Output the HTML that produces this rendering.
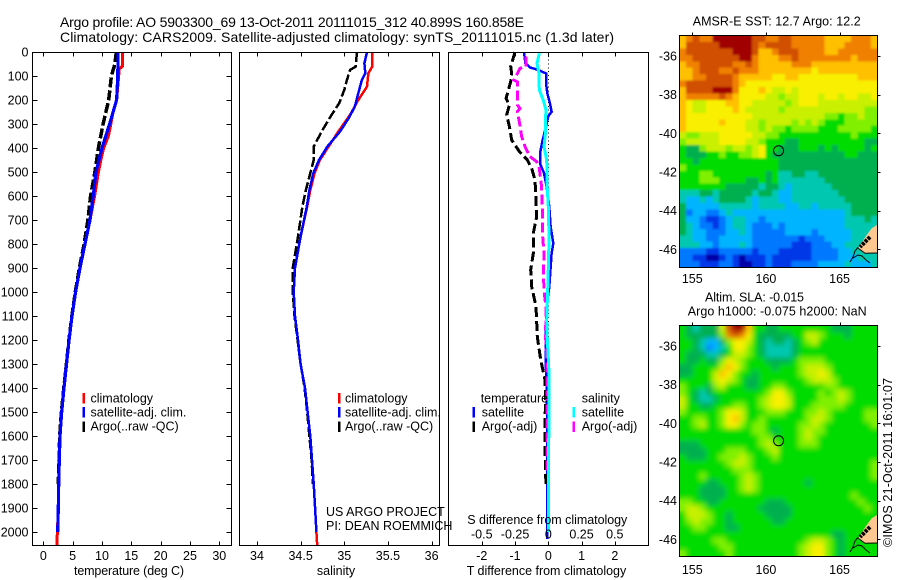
<!DOCTYPE html>
<html lang="en">
<head>
<meta charset="utf-8">
<title>Argo profile 5903300_69</title>
<style>
html,body{margin:0;padding:0;background:#fff;width:900px;height:580px;overflow:hidden}
svg{display:block}
text{font-family:"Liberation Sans",sans-serif;fill:#000;font-size:12.5px}
.title{font-size:14px}
.crisp{shape-rendering:crispEdges}
</style>
</head>
<body>
<svg id="chart" xmlns="http://www.w3.org/2000/svg" width="900" height="580" viewBox="0 0 900 580">
<defs>
<filter id="softA" x="-5%" y="-5%" width="110%" height="110%"><feGaussianBlur in="SourceGraphic" stdDeviation="1.1" result="b"/><feMerge><feMergeNode in="SourceGraphic"/><feMergeNode in="b"/></feMerge></filter>
<filter id="softB" x="-5%" y="-5%" width="110%" height="110%"><feGaussianBlur in="SourceGraphic" stdDeviation="2.6" result="b"/><feMerge><feMergeNode in="SourceGraphic"/><feMergeNode in="b"/></feMerge></filter>
<clipPath id="clipA"><rect x="679.5" y="35.5" width="198" height="232"/></clipPath>
<clipPath id="clipB"><rect x="679.5" y="325.5" width="198" height="231"/></clipPath>
</defs>
<rect width="900" height="580" fill="#fff"/>
<text class="title" x="60" y="27" textLength="464">Argo profile: AO 5903300_69 13-Oct-2011 20111015_312 40.899S 160.858E</text>
<text class="title" x="60" y="42" textLength="554">Climatology: CARS2009. Satellite-adjusted climatology: synTS_20111015.nc (1.3d later)</text>

<g id="panelT"></g>
<g id="panelS"></g>
<g id="panelD"></g>
<g id="mapA"></g>
<g id="mapB"></g>

<text x="74" y="575" textLength="110">temperature (deg C)</text>
<text x="336" y="575" text-anchor="middle">salinity</text>
<text x="466.7" y="575" textLength="159.5">T difference from climatology</text>
<text x="467.3" y="524" textLength="160">S difference from climatology</text>
<text x="326" y="516">US ARGO PROJECT</text>
<text x="326" y="530">PI: DEAN ROEMMICH</text>

<text x="692.7" y="25.7" textLength="168">AMSR-E SST: 12.7 Argo: 12.2</text>
<text x="705" y="301.7" textLength="99">Altim. SLA: -0.015</text>
<text x="687.7" y="315.7" textLength="179">Argo h1000: -0.075 h2000: NaN</text>
<text transform="translate(892,547) rotate(-90)" textLength="169">©IMOS 21-Oct-2011 16:01:07</text>
</svg>

<script>
// ---- profile data (depth in metres, temperature deg C, salinity PSU) ----
const depthTicks = [0,100,200,300,400,500,600,700,800,900,1000,1100,1200,1300,1400,1500,1600,1700,1800,1900,2000];
const tempTicks = [0,5,10,15,20,25,30];
const salTicks = [34,34.5,35,35.5,36];
const salTickLabels = ['34','34.5','35','35.5','36'];
const tDiffTicks = [-2,-1,0,1,2];
const tDiffTickLabels = ['-2','-1','0','1','2'];
const sDiffTicks = [-0.5,-0.25,0,0.25,0.5];
const sDiffTickLabels = ['-0.5','-0.25','0','0.25','0.5'];
const lonTicks = [155,160,165];
const latTicks = [-36,-38,-40,-42,-44,-46];

const tempClimDepth = [0,60,70,200,250,300,350,400,450,500,600,700,800,900,1000,1100,1200,1300,1400,1500,1600,1700,1800,1900,2000,2056];
const tempClimValue = [13.47,13.47,12.96,12.5,11.9,11.5,11.1,10.3,9.8,9.4,8.75,7.96,7.1,6.25,5.5,4.9,4.4,3.95,3.53,3.13,2.85,2.73,2.62,2.56,2.4,2.3];
const tempSatDepth = [0,100,200,250,300,400,500,600,700,800,900,1000,1100,1200,1300,1400,1500,1600,1700,1800,1900,2000];
const tempSatValue = [12.73,12.7,12.5,11.9,11.3,10.0,8.98,8.5,7.96,7.1,6.25,5.5,4.9,4.4,3.95,3.53,3.13,2.85,2.73,2.62,2.56,2.45];
const tempArgoDepth = [0,50,100,200,300,400,500,600,700,800,900,1000,1100,1200,1300,1400,1500,1600,1700,1800];
const tempArgoValue = [12.45,12.2,11.6,11.14,10.2,9.4,8.8,8.07,7.6,6.95,6.15,5.45,4.87,4.37,3.93,3.5,3.08,2.8,2.68,2.56];

const salClimDepth = [0,61,89,144,200,262,332,394,450,505,575,644,769,900,1000,1100,1200,1300,1400,1500,1600,1700,1800,1900,2000,2056];
const salClimValue = [35.32,35.32,35.275,35.26,35.16,35.065,34.93,34.82,34.72,34.66,34.61,34.575,34.5,34.435,34.42,34.435,34.47,34.5,34.55,34.58,34.61,34.63,34.65,34.665,34.68,34.69];
const salSatDepth = [0,47,89,117,172,228,276,332,394,450,505,575,644,769,900,1000,1100,1200,1300,1400,1500,1600,1700,1800,1900,2000];
const salSatValue = [35.26,35.23,35.24,35.2,35.16,35.12,35.05,34.95,34.805,34.71,34.645,34.6,34.57,34.5,34.435,34.42,34.435,34.47,34.5,34.55,34.58,34.61,34.63,34.65,34.665,34.68];
const salArgoDepth = [0,61,75,117,158,214,262,325,394,450,505,575,644,769,900,1000,1100,1200,1300,1400,1500,1600,1700,1800];
const salArgoValue = [35.145,35.13,35.065,35.03,35.0,34.94,34.855,34.75,34.65,34.65,34.61,34.56,34.52,34.47,34.41,34.41,34.43,34.465,34.5,34.545,34.575,34.6,34.625,34.64];

const dTempSatDepth = [0,47,64,75,89,130,172,214,249,267,311,367,422,464,505,561,644,728,797,839,978,1060,1186,1325,1380,1533,1700,1900,2030];
const dTempSatValue = [-0.73,-0.69,-0.55,-0.3,-0.07,-0.07,-0.03,0.05,0.1,0,-0.07,-0.17,-0.25,-0.25,-0.13,-0.05,0.03,0.07,0.15,0.1,0.03,-0.05,-0.08,-0.07,-0.05,-0.03,-0.03,-0.03,-0.03];
const dTempArgoDepth = [0,33,61,89,117,158,193,221,262,311,367,415,450,485,533,617,686,755,839,908,978,1061,1186,1283,1367,1450,1533,1650,1817];
const dTempArgoValue = [-1.0,-1.07,-1.13,-1.1,-1.12,-1.2,-1.27,-1.17,-1.25,-1.17,-1.1,-0.87,-0.63,-0.5,-0.4,-0.37,-0.35,-0.45,-0.45,-0.53,-0.5,-0.37,-0.33,-0.23,-0.1,-0.08,-0.1,-0.1,-0.07];
const dSalArgoDepth = [19,61,68,96,117,124,186,221,235,249,283,353,394,436,457,485,561,644,769,839,936,1005,1061,1186,1325,1533,1750];
const dSalArgoValue = [-0.168,-0.168,-0.213,-0.238,-0.258,-0.233,-0.233,-0.233,-0.213,-0.233,-0.22,-0.2,-0.175,-0.138,-0.087,-0.068,-0.05,-0.045,-0.042,-0.032,-0.037,-0.03,-0.017,-0.02,-0.008,-0.008,-0.008];
const dSalSatDepth = [6,47,89,158,200,242,283,339,394,450,561,644,769,839,978,1117,1186,1353,1533,1750,2000];
const dSalSatValue = [-0.068,-0.085,-0.07,-0.068,-0.038,-0.017,-0.022,-0.022,-0.032,-0.012,-0.008,0,0.005,0.003,-0.004,-0.012,-0.008,0.007,0.005,0,0];

// ---- map data: colour level per grid cell, row 0 = north ----
const sstLevels = [
[10,11,12,11,11,13,13,13,13,13,13,12,12,11,11,12,12,11,11,11,11,11,10,10,10,10,11,11,11,10],
[10,12,12,12,12,12,13,13,13,13,13,12,11,12,12,12,12,11,11,11,11,11,10,10,10,11,11,11,11,10],
[11,12,12,12,12,12,12,12,13,13,13,12,10,10,11,12,12,12,11,11,11,11,10,10,11,11,11,11,11,11],
[11,11,12,12,12,12,12,12,12,13,13,11,10,10,10,11,11,12,11,11,11,11,11,11,11,11,10,11,11,11],
[10,11,11,12,12,12,12,12,11,11,12,11,10,10,10,10,10,11,11,11,10,10,10,10,10,10,10,10,10,10],
[10,10,11,12,12,12,11,11,12,11,11,11,10,10,10,10,10,10,10,10,9,10,10,10,10,10,10,10,10,10],
[10,10,11,11,12,12,12,12,11,10,10,10,10,10,9,9,10,10,9,9,9,9,9,9,9,9,9,10,10,10],
[11,12,12,12,12,12,12,12,11,10,9,9,9,9,9,9,9,9,9,9,9,9,9,9,9,9,9,9,9,9],
[10,12,12,12,12,13,13,13,11,9,9,9,10,9,8,8,9,8,9,9,9,9,9,9,9,9,9,9,9,9],
[10,11,11,11,11,11,12,11,10,9,9,9,9,8,8,7,8,8,9,9,9,8,9,9,8,9,9,8,8,9],
[10,9,8,8,9,9,9,10,10,9,9,8,8,8,8,8,7,8,9,9,9,8,8,8,8,8,8,8,8,8],
[10,9,8,8,9,9,9,9,10,9,8,8,8,8,8,7,8,8,8,8,8,8,8,8,8,8,8,8,7,7],
[10,9,9,9,9,9,9,9,9,9,9,8,8,8,8,8,8,8,8,8,8,8,7,7,6,7,7,8,7,7],
[10,9,9,9,9,9,10,9,9,9,8,8,7,8,8,8,8,7,8,7,8,7,6,6,6,7,7,7,7,7],
[10,9,9,9,9,9,9,9,9,9,8,8,7,8,7,7,6,7,7,7,7,6,6,6,7,7,7,7,7,6],
[8,7,7,8,8,8,9,9,9,9,9,8,8,7,7,6,6,6,6,6,6,6,6,6,6,6,7,6,6,6],
[7,8,8,8,8,8,9,9,9,9,8,8,7,6,6,6,5,5,6,6,6,6,6,6,6,6,6,6,5,5],
[6,5,5,7,8,8,8,7,8,8,7,8,9,6,6,5,5,5,6,6,6,5,6,5,6,6,6,6,5,6],
[6,5,5,5,6,6,7,6,6,7,7,8,9,6,5,5,5,5,5,5,5,5,5,5,5,6,6,5,5,5],
[6,6,5,6,6,6,6,6,6,6,6,6,6,6,6,5,5,5,5,5,5,5,5,5,5,5,5,5,5,5],
[7,6,6,6,6,6,6,6,6,6,6,6,6,6,6,5,5,5,5,5,5,5,5,5,5,5,5,5,5,5],
[6,6,6,7,7,6,6,6,6,6,6,6,6,5,6,4,4,5,5,4,4,5,5,5,5,5,5,5,5,5],
[6,6,6,7,7,7,6,6,6,6,5,5,6,5,6,4,4,4,4,4,4,4,5,5,5,5,5,5,5,5],
[6,6,6,6,6,6,6,5,5,5,5,5,4,5,5,4,3,4,4,4,4,4,4,5,5,5,5,5,5,5],
[4,4,4,5,5,4,5,5,5,5,5,4,5,5,4,3,3,4,4,4,4,4,4,4,5,5,5,5,5,5],
[4,3,3,4,3,4,5,5,5,5,4,3,4,4,4,3,3,4,4,4,4,4,4,4,4,5,5,5,5,5],
[5,3,3,3,3,3,4,4,4,4,4,3,4,4,4,4,3,3,4,4,3,4,4,4,4,4,5,5,5,5],
[5,2,3,3,2,2,3,4,3,3,3,3,3,3,3,3,3,3,3,3,3,3,3,3,3,4,5,5,5,5],
[5,3,3,2,1,1,2,3,4,4,3,3,2,3,3,3,3,3,3,3,3,3,3,3,3,4,4,4,5,4],
[5,4,3,2,2,1,2,3,4,4,3,2,2,2,3,2,3,3,3,3,3,3,3,3,3,4,4,4,4,4],
[5,4,3,3,2,2,2,3,3,4,3,2,2,2,2,2,3,3,3,3,2,3,3,3,3,3,4,4,4,4],
[4,4,3,3,2,2,3,3,3,3,3,2,2,2,2,2,2,2,1,2,2,2,3,3,3,3,4,4,4,4],
[4,4,4,3,3,2,3,3,3,4,3,2,2,2,2,2,2,1,1,1,2,2,2,3,3,4,4,4,4,4],
[2,2,2,2,1,1,2,2,2,2,2,1,2,2,2,1,1,1,1,1,2,2,2,2,3,3,4,4,4,4],
[2,2,1,1,0,0,1,2,1,0,1,1,1,2,1,1,1,1,1,1,2,2,2,2,3,3,3,4,4,4],
[2,2,2,1,1,1,2,2,1,0,0,1,1,2,1,1,1,2,2,2,2,3,3,3,3,4,3,3,3,4]
];
const slaLevels = [
[6,5,4,5,5,5,8,12,13,13,10,6,6,5,5,6,6,6,6,6,6,6,6,5,5,5,6,6,6,6],
[6,5,5,5,5,5,7,11,12,11,9,6,5,5,5,5,5,6,6,8,8,7,6,6,6,5,6,6,6,6],
[6,6,5,4,3,3,5,7,9,9,8,6,5,4,5,5,4,5,6,7,8,6,6,6,6,6,6,6,6,6],
[6,6,5,4,2,3,4,6,9,9,7,6,5,4,4,4,4,5,6,6,6,6,6,6,6,6,6,6,6,6],
[6,5,5,5,4,4,5,6,8,8,7,6,5,4,4,4,4,5,6,6,6,6,6,6,6,6,6,6,6,6],
[6,5,5,6,5,5,7,9,8,7,6,6,6,5,5,5,5,6,7,7,7,7,6,6,6,6,6,6,6,6],
[5,5,6,6,6,6,8,10,9,7,6,6,6,6,5,6,6,6,7,8,8,8,7,6,6,6,6,6,6,6],
[5,5,6,6,6,8,10,9,7,6,6,5,6,6,6,6,6,6,7,8,8,9,8,6,6,6,6,6,6,6],
[6,6,6,6,6,8,9,8,7,6,5,5,6,6,6,6,6,6,6,7,8,8,8,7,6,6,6,6,6,6],
[7,6,6,6,5,7,8,6,6,6,5,5,6,6,7,7,6,6,6,6,6,6,7,7,6,6,6,6,6,6],
[7,6,5,4,5,6,6,6,6,6,6,6,6,7,9,9,7,6,6,6,6,7,6,7,8,7,6,6,6,6],
[8,6,5,4,4,5,6,6,6,6,6,6,7,8,9,9,8,6,6,6,6,7,7,7,8,7,6,6,6,6],
[8,6,6,5,5,6,6,6,7,7,6,6,7,8,9,9,8,6,6,6,7,7,7,7,7,6,6,6,6,6],
[7,6,6,6,6,6,7,9,9,8,6,6,6,7,7,7,6,6,6,7,7,8,7,6,6,6,6,6,7,7],
[6,6,7,7,6,6,7,9,10,8,6,6,7,6,6,6,6,6,6,7,8,8,7,6,6,6,6,6,7,7],
[6,6,7,8,6,6,7,9,9,7,6,7,7,6,6,6,6,6,7,7,8,7,6,6,6,6,6,6,6,7],
[6,6,6,6,6,6,6,6,6,6,6,7,7,6,5,6,6,6,7,8,7,7,6,6,6,6,6,6,6,6],
[6,6,6,6,6,6,6,6,6,6,6,6,7,7,6,6,6,6,7,8,7,6,6,6,6,6,6,6,6,6],
[5,5,5,6,6,6,6,6,6,6,6,6,7,8,7,6,6,6,7,7,7,6,6,6,6,6,6,6,6,6],
[5,5,5,5,6,6,6,7,7,7,6,6,6,7,8,6,6,6,6,6,6,6,6,6,6,6,6,6,6,6],
[6,5,5,5,6,6,7,7,7,8,7,6,6,6,7,6,6,6,6,6,6,6,6,6,6,6,6,6,6,6],
[6,6,6,6,6,6,6,7,8,8,7,6,6,6,6,6,6,6,6,6,6,6,6,6,6,6,6,6,6,7],
[6,6,6,6,6,6,6,6,7,7,7,6,6,6,6,6,6,6,6,6,6,6,6,6,6,6,6,6,6,7],
[6,6,6,7,6,6,6,6,6,7,8,7,6,6,6,6,6,6,6,6,6,6,6,6,6,6,6,6,6,7],
[6,6,6,6,5,5,6,6,6,7,8,7,6,6,6,6,6,6,6,5,6,6,6,6,6,6,6,6,6,6],
[6,6,6,5,5,5,5,6,6,7,8,7,6,6,6,6,6,6,6,6,6,6,6,6,6,6,6,6,6,6],
[6,6,6,5,5,5,5,6,6,6,6,6,6,6,6,6,6,6,6,6,6,6,6,6,6,6,7,6,6,6],
[7,7,6,6,5,5,6,6,6,6,6,6,6,5,5,5,6,6,6,6,6,6,6,6,6,6,6,7,6,6],
[7,8,8,7,6,6,6,6,6,6,6,6,5,5,5,5,5,6,6,6,6,6,6,6,6,6,6,6,7,6],
[6,8,8,8,7,6,6,5,6,6,6,6,6,5,5,5,5,6,6,6,6,6,6,6,6,6,6,6,6,6],
[6,7,8,7,7,6,6,5,6,6,6,6,6,6,5,5,6,6,6,6,6,6,6,6,6,6,6,6,6,6],
[6,6,7,7,6,6,6,5,5,6,6,6,6,6,6,6,6,6,6,6,6,6,6,6,6,6,6,6,6,6],
[6,6,6,6,6,6,6,6,6,6,6,6,6,6,6,6,6,6,6,6,6,6,6,5,5,6,6,6,6,6],
[6,6,6,6,6,7,7,6,6,6,6,6,6,6,6,6,6,6,6,7,8,8,7,6,5,6,6,6,6,6],
[6,6,6,6,6,6,7,7,6,6,6,6,6,6,6,6,6,6,7,8,9,9,7,6,5,6,6,6,6,6],
[7,6,6,6,6,6,6,7,6,6,6,6,6,6,6,6,6,6,7,8,9,9,7,6,5,6,6,6,6,6]
];
const floatLon = 160.858;
const floatLat = -40.899;

// ---- drawing ----
const heatColors = ['#0000a8','#0038e8','#0078ff','#00b4ff','#00c8b0','#00b050','#00dc00','#80f000','#c8f000','#f8f000','#ffc000','#f08000','#d05000','#a00000'];
const NS = 'http://www.w3.org/2000/svg';
const make = (parent, tag, attrs, txt) => {
  const el = document.createElementNS(NS, tag);
  for (const k in attrs) el.setAttribute(k, attrs[k]);
  if (txt !== undefined) el.textContent = txt;
  parent.appendChild(el);
  return el;
};
const yDepth = d => 52 + 0.24 * d;
const xTemp = v => 43.3 + 5.867 * v;
const xSal = v => 257 + 87.3 * (v - 34);
const xTDiff = v => 548.3 + 33.25 * v;
const xSDiff = v => 548.3 + 133 * v;

function drawLine(parent, name, xs, ys, xScale, color, width, dash) {
  const pts = xs.map((v, i) => xScale(v).toFixed(1) + ',' + yDepth(ys[i]).toFixed(1)).join(' ');
  const attrs = {points: pts, fill: 'none', stroke: color, 'stroke-width': width, class: 'crisp'};
  if (dash) attrs['stroke-dasharray'] = dash;
  const el = make(parent, 'polyline', attrs);
  
  
}
function drawFrame(parent, name, x0, x1, y0, y1) {
  const el = make(parent, 'rect', {x: x0, y: y0, width: x1 - x0, height: y1 - y0, fill: 'none', stroke: '#000', 'stroke-width': 1, class: 'crisp'});
  
  
}
function tickLine(parent, name, x1, y1, x2, y2) {
  const el = make(parent, 'line', {x1, y1, x2, y2, stroke: '#000', 'stroke-width': 1, class: 'crisp'});
  
  
}
function label(parent, name, x, y, anchor, txt) {
  const el = make(parent, 'text', {x, y, 'text-anchor': anchor}, txt);
  
  
}
function xAxis(parent, prefix, ticks, labels, scale, top, bottom, labelY) {
  ticks.forEach((t, i) => {
    const x = Math.round(scale(t)) + 0.5;
    tickLine(parent, prefix + '-top-tick', x, top, x, top + 4);
    tickLine(parent, prefix + '-bottom-tick', x, bottom, x, bottom - 4);
    label(parent, prefix + '-tick-label', scale(t), labelY, 'middle', labels[i]);
  });
}
function legendEntry(parent, name, tickX, y0, color, textX, baseline, txt) {
  const el = make(parent, 'rect', {x: tickX, y: y0, width: 2.5, height: 10.5, fill: color, class: 'crisp'});
  
  
  label(parent, name + '-label', textX, baseline, 'start', txt);
}

// temperature panel
const pT = document.getElementById('panelT');
drawLine(pT, 'temperature-climatology-line', tempClimValue, tempClimDepth, xTemp, '#ff0000', 3);
drawLine(pT, 'temperature-argo-line', tempArgoValue, tempArgoDepth, xTemp, '#000', 3.5, '10 3');
drawLine(pT, 'temperature-satellite-line', tempSatValue, tempSatDepth, xTemp, '#0000ff', 3.2);
drawFrame(pT, 'temperature-panel-frame', 32.5, 231.5, 52.5, 545.5);
depthTicks.forEach(d => {
  const y = Math.round(yDepth(d)) + 0.5;
  tickLine(pT, 'depth-left-tick', 32.5, y, 37.5, y);
  tickLine(pT, 'depth-right-tick', 226.5, y, 231.5, y);
  label(pT, 'depth-tick-label', 28.5, yDepth(d) + 4.5, 'end', String(d));
});
xAxis(pT, 'temperature', tempTicks, tempTicks.map(String), xTemp, 52.5, 545.5, 560);
legendEntry(pT, 'legend-climatology', 82.5, 393, '#ff0000', 90.5, 402.5, 'climatology');
legendEntry(pT, 'legend-satellite-adj', 82.5, 407, '#0000ff', 90.5, 416.5, 'satellite-adj. clim.');
legendEntry(pT, 'legend-argo', 82.5, 421.5, '#000', 90.5, 430.5, 'Argo(..raw -QC)');

// salinity panel
const pS = document.getElementById('panelS');
drawLine(pS, 'salinity-climatology-line', salClimValue, salClimDepth, xSal, '#ff0000', 2.5);
drawLine(pS, 'salinity-argo-line', salArgoValue, salArgoDepth, xSal, '#000', 2.5, '10 3');
drawLine(pS, 'salinity-satellite-line', salSatValue, salSatDepth, xSal, '#0000ff', 2.5);
drawFrame(pS, 'salinity-panel-frame', 239.5, 439.5, 52.5, 545.5);
xAxis(pS, 'salinity', salTicks, salTickLabels, xSal, 52.5, 545.5, 560);
legendEntry(pS, 'legend-s-climatology', 338, 393, '#ff0000', 345, 402.5, 'climatology');
legendEntry(pS, 'legend-s-satellite-adj', 338, 407, '#0000ff', 345, 416.5, 'satellite-adj. clim.');
legendEntry(pS, 'legend-s-argo', 338, 421.5, '#000', 345, 430.5, 'Argo(..raw -QC)');

// difference panel
const pD = document.getElementById('panelD');
for (let d = 0; d < 1500; d += 16) {
  const y = yDepth(d);
  tickLine(pD, 'zero-reference-dot', 548.5, y, 548.5, y + 1);
}
drawLine(pD, 'diff-temperature-satellite-line', dTempSatValue, dTempSatDepth, xTDiff, '#0000ff', 2.5);
drawLine(pD, 'diff-temperature-argo-line', dTempArgoValue, dTempArgoDepth, xTDiff, '#000', 3, '10 4');
drawLine(pD, 'diff-salinity-argo-line', dSalArgoValue, dSalArgoDepth, xSDiff, '#ff00ff', 3, '10 4');
drawLine(pD, 'diff-salinity-satellite-line', dSalSatValue, dSalSatDepth, xSDiff, '#00ffff', 3);
drawFrame(pD, 'difference-panel-frame', 448.5, 648.5, 52.5, 545.5);
xAxis(pD, 't-diff', tDiffTicks, tDiffTickLabels, xTDiff, 52.5, 545.5, 560);
sDiffTicks.forEach((t, i) => {
  label(pD, 's-diff-tick-label', xSDiff(t), 538.5, 'middle', sDiffTickLabels[i]);
});
label(pD, 'legend-temperature-heading', 480.7, 402.5, 'start', 'temperature');
label(pD, 'legend-salinity-heading', 581.7, 402.5, 'start', 'salinity');
legendEntry(pD, 'legend-t-satellite', 472.5, 407, '#0000ff', 481.7, 416.5, 'satellite');
legendEntry(pD, 'legend-t-argo', 472.5, 421.5, '#000', 481.7, 430.5, 'Argo(-adj)');
legendEntry(pD, 'legend-s-satellite', 572.5, 407, '#00ffff', 581.7, 416.5, 'satellite');
legendEntry(pD, 'legend-s-argo-adj', 572.5, 421.5, '#ff00ff', 581.7, 430.5, 'Argo(-adj)');

// maps
const MAP_L = 679.5, MAP_R = 877.5;
const xLon = lon => 692.3 + 14.73 * (lon - 155);
function drawMap(parent, prefix, grid, top, bottom, lat36Y, lonLabelY, clipId, softId) {
  const yLat = lat => lat36Y + 19.33 * (-36 - lat);
  const cw = (MAP_R - MAP_L) / grid[0].length;
  const ch = (bottom - top) / grid.length;
  const clip = make(parent, 'g', {'clip-path': 'url(#' + clipId + ')'});
  
  
  const cells = make(clip, 'g', {filter: 'url(#' + softId + ')'});
  
  
  grid.forEach((row, r) => row.forEach((v, c) => {
    const cell = make(cells, 'rect', {x: (MAP_L + c * cw).toFixed(2), y: (top + r * ch).toFixed(2), width: (cw + 0.4).toFixed(2), height: (ch + 0.4).toFixed(2), fill: heatColors[v], class: 'crisp'});
    
    
  }));
  const dy = top - 35.5;
  const land = make(parent, 'path', {d: `M877 ${225+dy} L871.7 ${228.3+dy} L866.7 ${235+dy} L860 ${245+dy} L858.3 ${248.3+dy} L865 ${253.3+dy} L877 ${253.3+dy} Z`, fill: '#ffc890'});
  
  
  const coast = make(parent, 'path', {d: `M858.3 ${247+dy} L855 ${251+dy} L853 ${257+dy} L850 ${262+dy} M853 ${258+dy} L858 ${255+dy} L862 ${256+dy} L866 ${260+dy} L870 ${263+dy} M858.3 ${248.3+dy} L865 ${253.3+dy} L877 ${253+dy}`, fill: 'none', stroke: '#000', 'stroke-width': 1});
  
  
  const mass = make(parent, 'path', {d: `M870 ${237+dy} L860 ${247+dy}`, fill: 'none', stroke: '#000', 'stroke-width': 4, 'stroke-dasharray': '3 1'});
  
  
  const circle = make(parent, 'circle', {cx: xLon(floatLon), cy: yLat(floatLat), r: 5, fill: 'none', stroke: '#000', 'stroke-width': 1});
  
  
  drawFrame(parent, prefix + '-frame', MAP_L, MAP_R, top, bottom);
  lonTicks.forEach(t => {
    const x = Math.round(xLon(t)) + 0.5;
    tickLine(parent, prefix + '-lon-tick', x, top - 3, x, top);
    label(parent, prefix + '-lon-label', xLon(t), lonLabelY, 'middle', String(t));
  });
  latTicks.forEach(t => {
    const y = Math.round(yLat(t)) + 0.5;
    tickLine(parent, prefix + '-lat-tick', MAP_R, y, MAP_R + 3, y);
    label(parent, prefix + '-lat-label', 677, yLat(t) + 4.5, 'end', String(t));
  });
}
drawMap(document.getElementById('mapA'), 'sst-map', sstLevels, 35.5, 267.5, 56, 283, 'clipA', 'softA');
drawMap(document.getElementById('mapB'), 'sla-map', slaLevels, 325.5, 556.5, 346, 574, 'clipB', 'softB');
</script>
</body>
</html>
